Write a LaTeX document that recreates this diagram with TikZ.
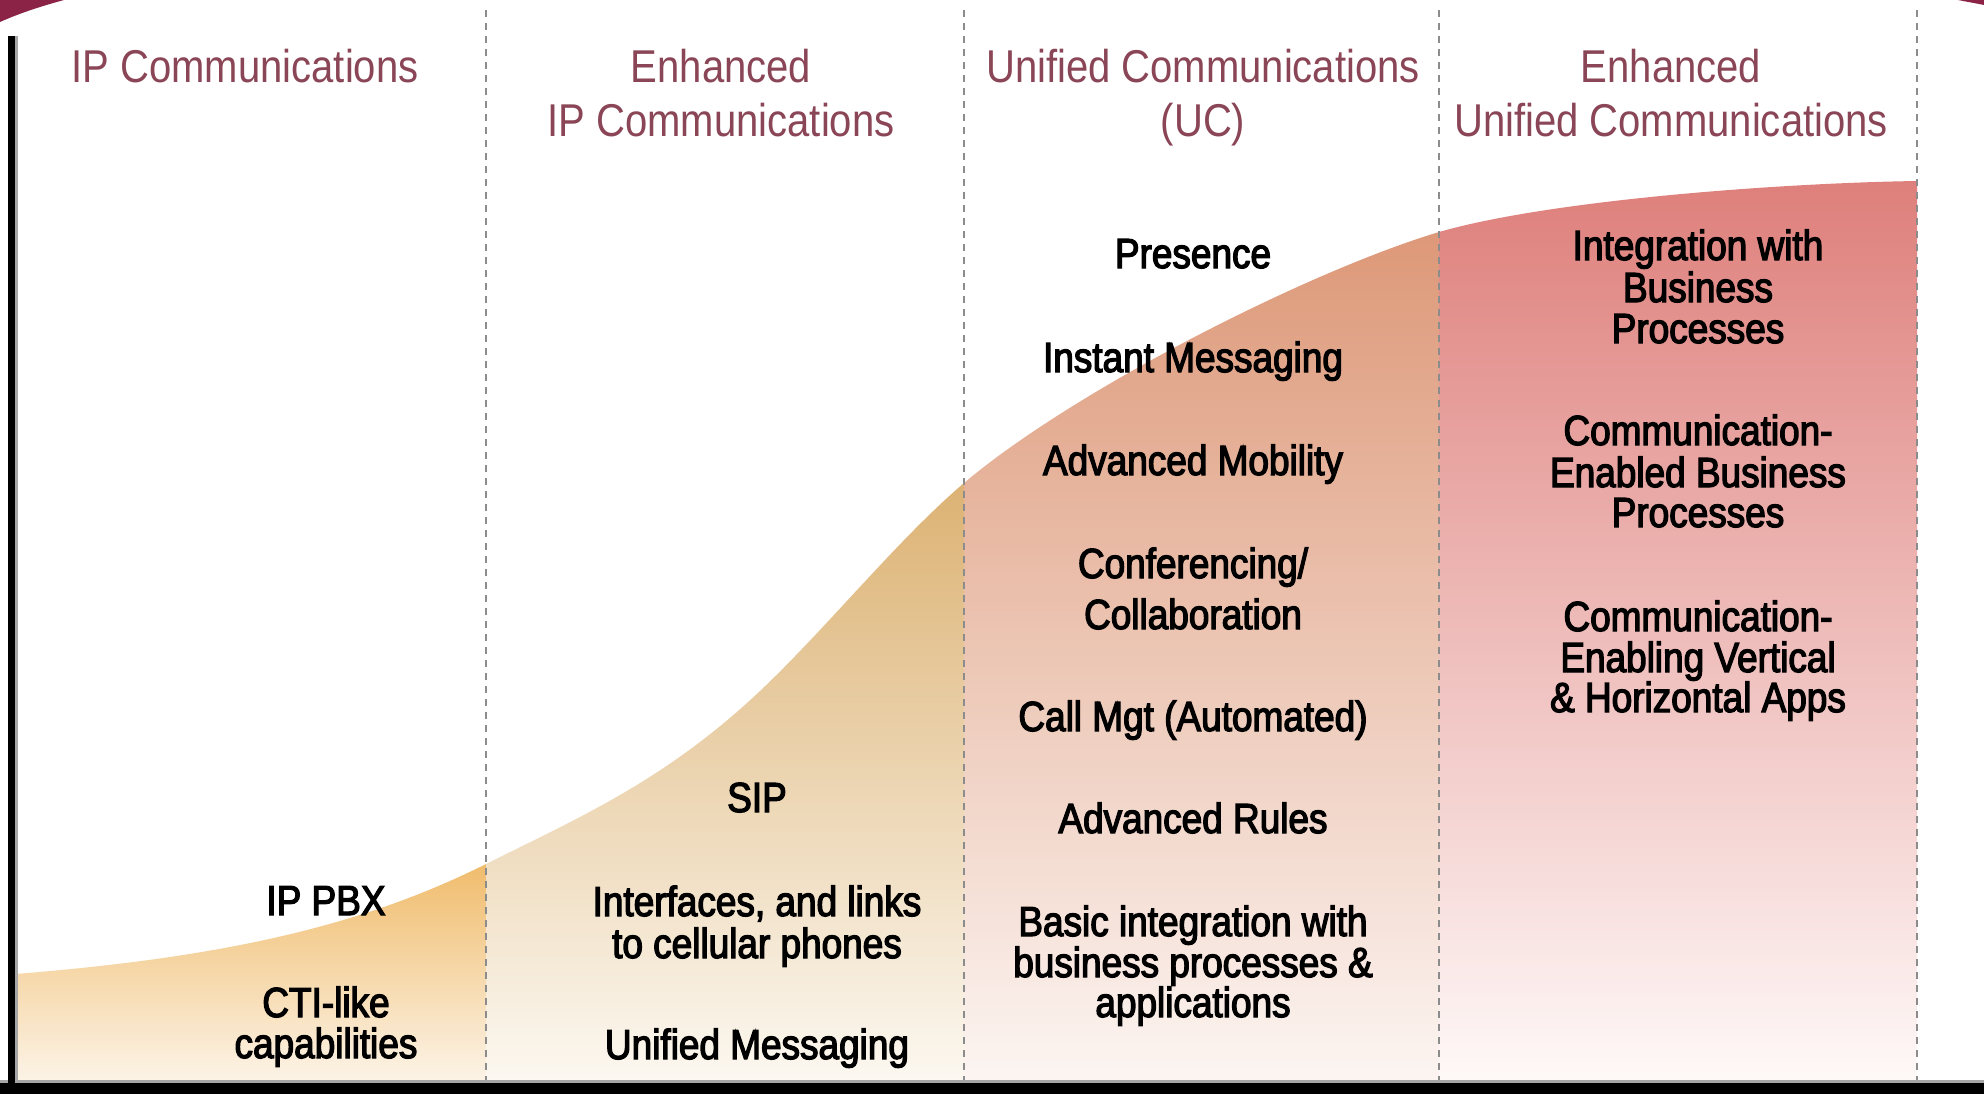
\documentclass[tikz,border=0pt]{standalone}
\usepackage{fontspec}
\setmainfont{Liberation Sans}[FakeStretch=0.87]
\newfontfamily\bodyfont{Liberation Sans}[FakeStretch=0.88,FakeBold=3]
\definecolor{maroon}{HTML}{8B2346}
\definecolor{headc}{HTML}{8A4556}
\definecolor{dashc}{HTML}{8C8C8C}
\definecolor{cAt}{HTML}{F0BB6A}\definecolor{cAm}{HTML}{F5D4A2}\definecolor{cAb}{HTML}{FCF4E8}
\definecolor{cBt}{HTML}{DCB273}\definecolor{cBm}{HTML}{EAD2AC}\definecolor{cBb}{HTML}{FCF8F1}
\definecolor{cCt}{HTML}{DD9878}\definecolor{cCm}{HTML}{EDC3AE}\definecolor{cCb}{HTML}{FCF5F2}
\definecolor{cDt}{HTML}{DE7F7B}\definecolor{cDm}{HTML}{ECBDB4}\definecolor{cDb}{HTML}{FEF9F8}
\tikzset{
  head/.style={text=headc,font=\fontsize{23}{27}\selectfont,anchor=base,inner sep=0pt},
  body/.style={text=black,font=\bodyfont\fontsize{21}{21}\selectfont,anchor=base,inner sep=0pt},
  divider/.style={draw=dashc,line width=1pt,dash pattern=on 3.5pt off 3pt},
}
\begin{document}
\begin{tikzpicture}[x=0.5pt,y=-0.5pt]
\useasboundingbox (0,0) rectangle (1984,1094);
\fill[white] (0,0) rectangle (1984,1094);
% corner arcs
\fill[maroon] (0,0) -- (64,0) .. controls (42,6) and (20,13) .. (0,22) -- cycle;
\fill[maroon] (1958,0) .. controls (1968,2) and (1977,3.5) .. (1984,5) -- (1984,0) -- cycle;
% S-curve area with per-column gradients
\begin{scope}
\clip (15,1083) -- (15,974)
  .. controls (230,957) and (366,924) .. (486,864)
  .. controls (576,819) and (657,784) .. (747,703)
  .. controls (817,640) and (894,542.5) .. (964,483)
  .. controls (1074,390) and (1309,271) .. (1439,232)
  .. controls (1550,200) and (1780,183) .. (1917,181)
  -- (1917,1083) -- cycle;
\shade[top color=cAt,middle color=cAm,bottom color=cAb] (15,860) rectangle (486,1083);
\shade[top color=cBt,middle color=cBm,bottom color=cBb] (486,480) rectangle (964,1083);
\shade[top color=cCt,middle color=cCm,bottom color=cCb] (964,230) rectangle (1439,1083);
\shade[top color=cDt,middle color=cDm,bottom color=cDb] (1439,178) rectangle (1917,1083);
\end{scope}
% dividers
\foreach \xx in {486,964,1439,1917} \draw[divider] (\xx,10) -- (\xx,1080);
% axes
\fill[black!35] (15,36) rectangle (18,1083);
\fill[black!35] (0,1080) rectangle (1984,1083);
\fill[black] (8,36) rectangle (15,1094);
\fill[black] (0,1083) rectangle (1984,1094);
% headings
\node[head] (h1) at (245,82) {IP Communications};
\node[head] (h2a) at (721,82) {Enhanced};
\node[head] (h2b) at (721,136) {IP Communications};
\node[head] (h3a) at (1203,82) {Unified Communications};
\node[head] (h3b) at (1203,136) {(UC)};
\node[head] (h4a) at (1671,82) {Enhanced};
\node[head] (h4b) at (1671,136) {Unified Communications};
% column 1
\node[body] (pbx) at (326,915) {IP PBX};
\node[body] (cti1) at (326,1017) {CTI-like};
\node[body] (cti2) at (326,1058) {capabilities};
% column 2
\node[body] (sip) at (757,812) {SIP};
\node[body] (if1) at (757,916) {Interfaces, and links};
\node[body] (if2) at (757,958) {to cellular phones};
\node[body] (um) at (757,1059) {Unified Messaging};
% column 3
\node[body] (pres) at (1193,268) {Presence};
\node[body] (im) at (1193,372) {Instant Messaging};
\node[body] (mob) at (1193,475) {Advanced Mobility};
\node[body] (conf1) at (1193,578) {Conferencing/};
\node[body] (conf2) at (1193,629) {Collaboration};
\node[body] (call) at (1193,731) {Call Mgt (Automated)};
\node[body] (rules) at (1193,833) {Advanced Rules};
\node[body] (bi1) at (1193,936) {Basic integration with};
\node[body] (bi2) at (1193,977) {business processes \&};
\node[body] (bi3) at (1193,1017) {applications};
% column 4
\node[body] (ib1) at (1698,260) {Integration with};
\node[body] (ib2) at (1698,302) {Business};
\node[body] (ib3) at (1698,343) {Processes};
\node[body] (ce1) at (1698,445) {Communication-};
\node[body] (ce2) at (1698,487) {Enabled Business};
\node[body] (ce3) at (1698,527) {Processes};
\node[body] (cv1) at (1698,631) {Communication-};
\node[body] (cv2) at (1698,672) {Enabling Vertical};
\node[body] (cv3) at (1698,712) {\& Horizontal Apps};
\end{tikzpicture}
\end{document}
